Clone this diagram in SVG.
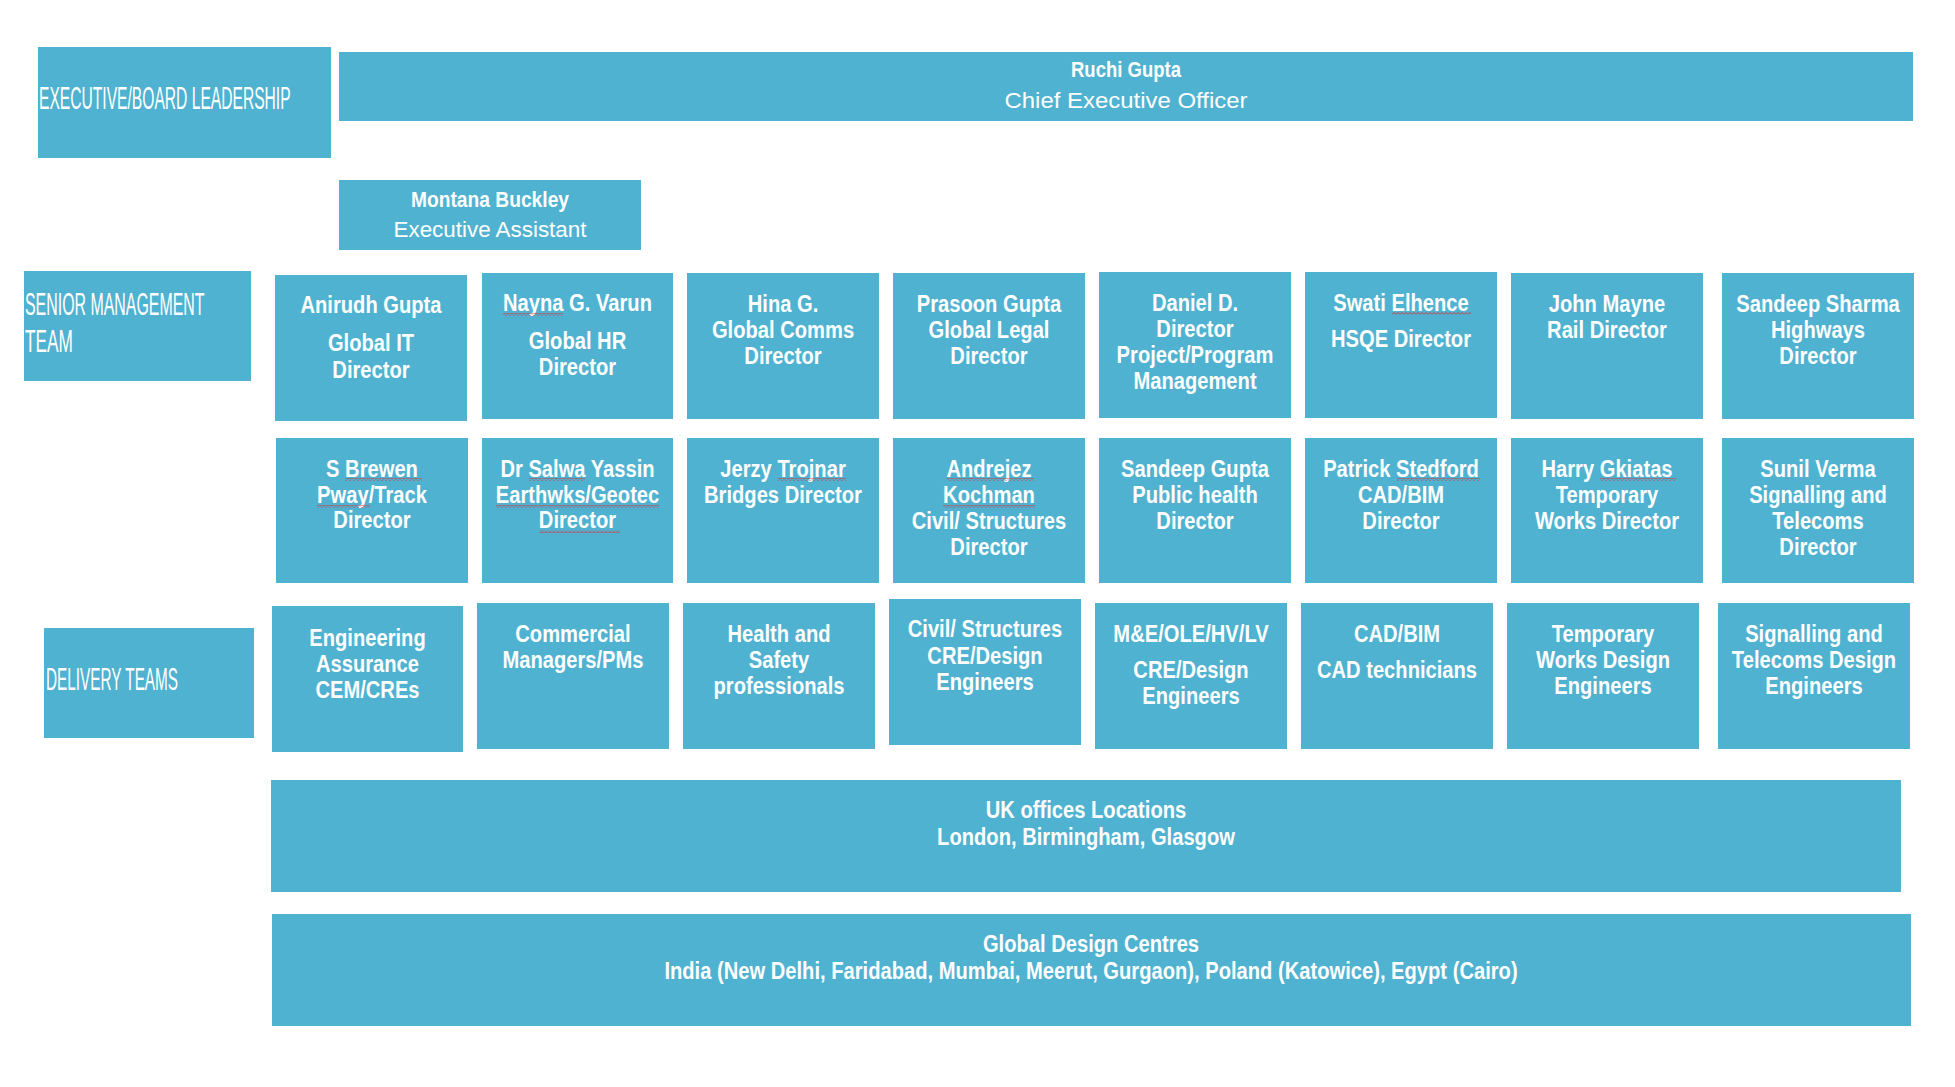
<svg xmlns="http://www.w3.org/2000/svg" width="1955" height="1087" viewBox="0 0 1955 1087">
<style>
.box{fill:#4FB2D0}
.t{font-family:"Liberation Sans",Arial,sans-serif;font-weight:bold;font-size:24px;fill:#fff;text-anchor:middle}
.lbl{font-family:"Liberation Sans",Arial,sans-serif;font-size:31px;fill:#fff}
.tw{font-family:"Liberation Sans",Arial,sans-serif;font-size:22px;fill:#fff;text-anchor:middle}
.twb{font-weight:bold}
.sq{fill:url(#squig)}
</style>
<defs>
<pattern id="squig" patternUnits="userSpaceOnUse" width="4" height="3">
<path d="M0 2.5 L2 0.5 L4 2.5" fill="none" stroke="#E02A2A" stroke-width="0.9"/>
</pattern>
</defs>
<rect width="1955" height="1087" fill="#fff"/>

<g id="label-exec"><rect class="box" x="38" y="47" width="293" height="111"/><g transform="translate(39 0) scale(.504 1)"><text class="lbl" x="0" y="109">EXECUTIVE/BOARD LEADERSHIP</text></g></g>
<g id="label-senior"><rect class="box" x="24" y="271" width="227" height="110"/><g transform="translate(25 0) scale(.514 1)"><text class="lbl" x="0" y="315">SENIOR MANAGEMENT</text></g><g transform="translate(25 0) scale(.557 1)"><text class="lbl" x="0" y="352">TEAM</text></g></g>
<g id="label-delivery"><rect class="box" x="44" y="628" width="210" height="110"/><g transform="translate(46 0) scale(.495 1)"><text class="lbl" x="0" y="690">DELIVERY TEAMS</text></g></g>

<g id="ceo"><rect class="box" x="339" y="52" width="1574" height="69"/><text class="tw twb" x="1126" y="77" textLength="110" lengthAdjust="spacingAndGlyphs">Ruchi Gupta</text><text class="tw" x="1126" y="108" textLength="243" lengthAdjust="spacingAndGlyphs">Chief Executive Officer</text></g>
<g id="ea"><rect class="box" x="339" y="180" width="302" height="70"/><text class="tw twb" x="490" y="207" textLength="158" lengthAdjust="spacingAndGlyphs">Montana Buckley</text><text class="tw" x="490" y="237" textLength="193" lengthAdjust="spacingAndGlyphs">Executive Assistant</text></g>

<g id="n-anirudh"><rect class="box" x="275" y="275" width="192" height="146"/><g transform="translate(371 0) scale(.84 1)"><text class="t" y="313">Anirudh Gupta</text><text class="t" y="351">Global IT</text><text class="t" y="378">Director</text></g></g>
<g id="n-nayna"><rect class="box" x="482" y="273" width="191" height="146"/><g transform="translate(577.5 0) scale(.84 1)"><text class="t" y="311">Nayna G. Varun</text><text class="t" y="349">Global HR</text><text class="t" y="375">Director</text></g><rect class="sq" x="503" y="313" width="60" height="3"/></g>
<g id="n-hina"><rect class="box" x="687" y="273" width="192" height="146"/><g transform="translate(783 0) scale(.84 1)"><text class="t" y="312">Hina G.</text><text class="t" y="338">Global Comms</text><text class="t" y="364">Director</text></g></g>
<g id="n-prasoon"><rect class="box" x="893" y="273" width="192" height="146"/><g transform="translate(989 0) scale(.84 1)"><text class="t" y="312">Prasoon Gupta</text><text class="t" y="338">Global Legal</text><text class="t" y="364">Director</text></g></g>
<g id="n-daniel"><rect class="box" x="1099" y="272" width="192" height="146"/><g transform="translate(1195 0) scale(.84 1)"><text class="t" y="311">Daniel D.</text><text class="t" y="337">Director</text><text class="t" y="363">Project/Program</text><text class="t" y="389">Management</text></g></g>
<g id="n-swati"><rect class="box" x="1305" y="272" width="192" height="146"/><g transform="translate(1401 0) scale(.84 1)"><text class="t" y="311">Swati Elhence</text><text class="t" y="347">HSQE Director</text></g><rect class="sq" x="1392" y="312" width="79" height="3"/></g>
<g id="n-john"><rect class="box" x="1511" y="273" width="192" height="146"/><g transform="translate(1607 0) scale(.84 1)"><text class="t" y="312">John Mayne</text><text class="t" y="338">Rail Director</text></g></g>
<g id="n-sandeep-s"><rect class="box" x="1722" y="273" width="192" height="146"/><g transform="translate(1818 0) scale(.84 1)"><text class="t" y="312">Sandeep Sharma</text><text class="t" y="338">Highways</text><text class="t" y="364">Director</text></g></g>

<g id="n-brewen"><rect class="box" x="276" y="438" width="192" height="145"/><g transform="translate(372 0) scale(.84 1)"><text class="t" y="477">S Brewen</text><text class="t" y="503">Pway/Track</text><text class="t" y="528">Director</text></g><rect class="sq" x="345" y="478" width="77" height="3"/><rect class="sq" x="317" y="505" width="53" height="3"/></g>
<g id="n-salwa"><rect class="box" x="482" y="438" width="191" height="145"/><g transform="translate(577.5 0) scale(.84 1)"><text class="t" y="477">Dr Salwa Yassin</text><text class="t" y="503">Earthwks/Geotec</text><text class="t" y="528">Director</text></g><rect class="sq" x="529" y="478" width="56" height="3"/><rect class="sq" x="496" y="505" width="163" height="3"/><rect class="sq" x="539" y="530" width="81" height="3"/></g>
<g id="n-jerzy"><rect class="box" x="687" y="438" width="192" height="145"/><g transform="translate(783 0) scale(.84 1)"><text class="t" y="477">Jerzy Trojnar</text><text class="t" y="503">Bridges Director</text></g><rect class="sq" x="778" y="478" width="68" height="3"/></g>
<g id="n-andrejez"><rect class="box" x="893" y="438" width="192" height="145"/><g transform="translate(989 0) scale(.84 1)"><text class="t" y="477">Andrejez</text><text class="t" y="503">Kochman</text><text class="t" y="529">Civil/ Structures</text><text class="t" y="555">Director</text></g><rect class="sq" x="947" y="478" width="87" height="3"/><rect class="sq" x="943" y="505" width="92" height="3"/></g>
<g id="n-sandeep-g"><rect class="box" x="1099" y="438" width="192" height="145"/><g transform="translate(1195 0) scale(.84 1)"><text class="t" y="477">Sandeep Gupta</text><text class="t" y="503">Public health</text><text class="t" y="529">Director</text></g></g>
<g id="n-patrick"><rect class="box" x="1305" y="438" width="192" height="145"/><g transform="translate(1401 0) scale(.84 1)"><text class="t" y="477">Patrick Stedford</text><text class="t" y="503">CAD/BIM</text><text class="t" y="529">Director</text></g><rect class="sq" x="1397" y="478" width="83" height="3"/></g>
<g id="n-harry"><rect class="box" x="1511" y="438" width="192" height="145"/><g transform="translate(1607 0) scale(.84 1)"><text class="t" y="477">Harry Gkiatas</text><text class="t" y="503">Temporary</text><text class="t" y="529">Works Director</text></g><rect class="sq" x="1600" y="478" width="76" height="3"/></g>
<g id="n-sunil"><rect class="box" x="1722" y="438" width="192" height="145"/><g transform="translate(1818 0) scale(.84 1)"><text class="t" y="477">Sunil Verma</text><text class="t" y="503">Signalling and</text><text class="t" y="529">Telecoms</text><text class="t" y="555">Director</text></g></g>

<g id="d-eng"><rect class="box" x="272" y="606" width="191" height="146"/><g transform="translate(367.5 0) scale(.84 1)"><text class="t" y="646">Engineering</text><text class="t" y="672">Assurance</text><text class="t" y="698">CEM/CREs</text></g></g>
<g id="d-commercial"><rect class="box" x="477" y="603" width="192" height="146"/><g transform="translate(573 0) scale(.84 1)"><text class="t" y="642">Commercial</text><text class="t" y="668">Managers/PMs</text></g></g>
<g id="d-health"><rect class="box" x="683" y="603" width="192" height="146"/><g transform="translate(779 0) scale(.84 1)"><text class="t" y="642">Health and</text><text class="t" y="668">Safety</text><text class="t" y="694">professionals</text></g></g>
<g id="d-civil"><rect class="box" x="889" y="599" width="192" height="146"/><g transform="translate(985 0) scale(.84 1)"><text class="t" y="637">Civil/ Structures</text><text class="t" y="664">CRE/Design</text><text class="t" y="690">Engineers</text></g></g>
<g id="d-me"><rect class="box" x="1095" y="603" width="192" height="146"/><g transform="translate(1191 0) scale(.84 1)"><text class="t" y="642">M&amp;E/OLE/HV/LV</text><text class="t" y="678">CRE/Design</text><text class="t" y="704">Engineers</text></g></g>
<g id="d-cad"><rect class="box" x="1301" y="603" width="192" height="146"/><g transform="translate(1397 0) scale(.84 1)"><text class="t" y="642">CAD/BIM</text><text class="t" y="678">CAD technicians</text></g></g>
<g id="d-temp"><rect class="box" x="1507" y="603" width="192" height="146"/><g transform="translate(1603 0) scale(.84 1)"><text class="t" y="642">Temporary</text><text class="t" y="668">Works Design</text><text class="t" y="694">Engineers</text></g></g>
<g id="d-signal"><rect class="box" x="1718" y="603" width="192" height="146"/><g transform="translate(1814 0) scale(.84 1)"><text class="t" y="642">Signalling and</text><text class="t" y="668">Telecoms Design</text><text class="t" y="694">Engineers</text></g></g>

<g id="uk-offices"><rect class="box" x="271" y="780" width="1630" height="112"/><g transform="translate(1086 0) scale(.84 1)"><text class="t" y="818">UK offices Locations</text><text class="t" y="845">London, Birmingham, Glasgow</text></g></g>
<g id="global-centres"><rect class="box" x="272" y="914" width="1639" height="112"/><g transform="translate(1091 0) scale(.84 1)"><text class="t" y="952">Global Design Centres</text><text class="t" y="979">India (New Delhi, Faridabad, Mumbai, Meerut, Gurgaon), Poland (Katowice), Egypt (Cairo)</text></g></g>

<g id="connectors"/>
</svg>
